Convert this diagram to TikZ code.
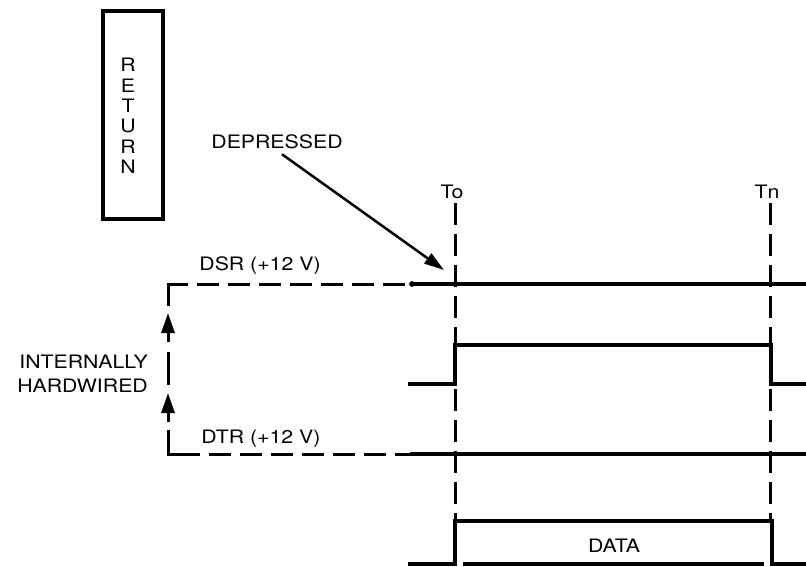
\documentclass[tikz,border=0pt]{standalone}
\usepackage{fontspec}
\setmainfont{TeX Gyre Heros}[FakeStretch=1.15]
\usetikzlibrary{arrows.meta, positioning}

\begin{document}
\begin{tikzpicture}[x=1pt, y=-1pt,
            lbl/.style={font=\fontsize{18.5}{24}\selectfont, inner sep=0pt},
            sig/.style={line width=3.8pt, line join=miter},
            dsh/.style={line width=3pt, dash pattern=on 22pt off 9pt},
            keybox/.style={draw, line width=4.5pt, minimum width=60pt, minimum height=208pt, inner sep=0pt},
            uptip/.style={-{Triangle[length=20pt, width=13pt]}, line width=3pt}]
            \useasboundingbox (0,0) rectangle (806,567);
            % Key
            \node[keybox] (retkey) at (133,115) {};
            \foreach \ch [count=\i from 0] in {R,E,T,U,R,N} {
                \node[lbl] (ret\i) at (128,{65+\i*20.4}) {\ch};
            }
            % Labels
            \node[lbl] (pressed) at (277,142) {DEPRESSED};
            \node[lbl] (tzero) at (452,192) {To};
            \node[lbl] (tenn) at (767,192) {Tn};
            \node[lbl] (dsr) at (260,266) {DSR (+12 V)};
            \node[lbl] (dtr) at (261,439) {DTR (+12 V)};
            \node[lbl, align=right, anchor=east] (wired) at (148,374) {INTERNALLY\\HARDWIRED};
            \node[lbl] (data) at (614,546) {DATA};
            % Points
            \coordinate (dsrL) at (168,284);
            \coordinate (dsrM) at (412,284);
            \coordinate (dsrR) at (806,284);
            \coordinate (dtrL) at (168,454);
            \coordinate (dtrM) at (410,454);
            \coordinate (dtrR) at (806,454);
            \coordinate (t0top) at (455,203);
            \coordinate (t0bot) at (455,520);
            \coordinate (tntop) at (770,203);
            \coordinate (tnbot) at (770,520);
            \coordinate (presstip) at (444,270);
            % Time marks
            \draw[dsh] (t0top) -- (t0bot);
            \draw[dsh] (tntop) -- (tnbot);
            % Hardwired loop
            \draw[line width=3pt] (168,306) -- (dsrL) -- (188,284);
            \draw[dsh] (197,284) -- (dsrM);
            \draw[line width=3pt] (168,430) -- (dtrL) -- (200,454);
            \draw[dsh] (209,454) -- (dtrM);
            \draw[line width=3pt] (168,352) -- (168,385);
            \draw[uptip] (168,342) -- (168,313);
            \draw[uptip] (168,422) -- (168,393);
            % Signals
            \draw[sig] (dsrM) -- (dsrR);
            \fill (dsrM) circle (2.9pt);
            \draw[sig] (dtrM) -- (dtrR);
            \draw[sig] (408,384) -- (455,384) -- (455,345) -- (771,345) -- (771,384) -- (806,384);
            \draw[sig] (408,564) -- (455,564) -- (455,521) -- (772,521) -- (772,564) -- (806,564);
            \draw[sig] (463,564) -- (764,564);
            % Depressed arrow
            \draw[-{Triangle[length=20pt, width=12pt]}, line width=2.5pt] ([xshift=5pt, yshift=-5pt]pressed.south) -- (presstip);
        \end{tikzpicture}
\end{document}
